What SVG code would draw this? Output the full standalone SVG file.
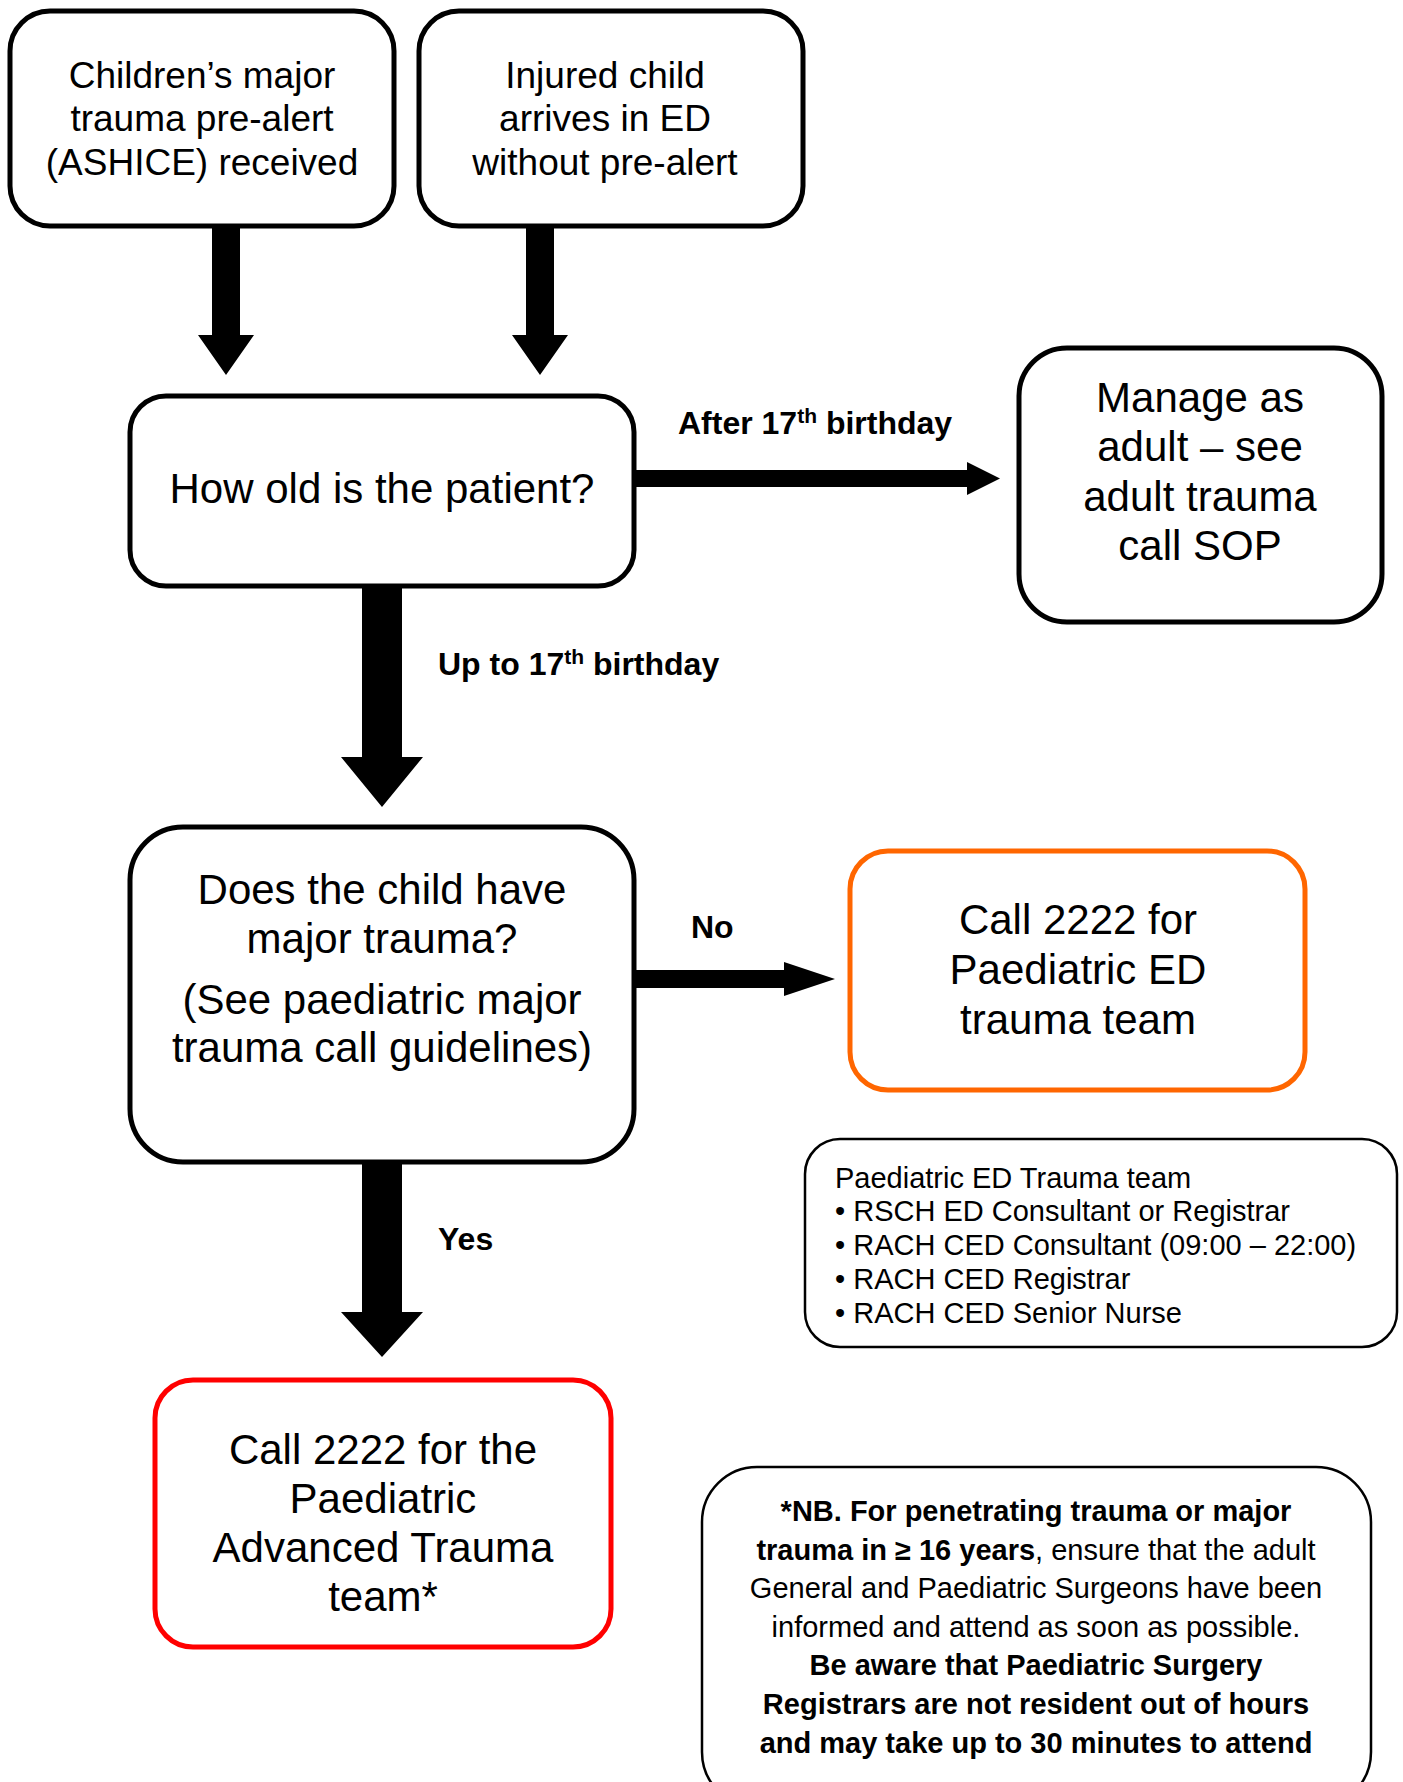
<svg xmlns="http://www.w3.org/2000/svg" width="1403" height="1782" viewBox="0 0 1403 1782">
<style>
.box{fill:#fff;stroke:#000;stroke-width:5}
.thin{fill:#fff;stroke:#000;stroke-width:2.5}
.orange{fill:#fff;stroke:#FF6600;stroke-width:5}
.red{fill:#fff;stroke:#FF0000;stroke-width:5}
.arrow{fill:#000;stroke:none}
text{font-family:"Liberation Sans",Arial,sans-serif;fill:#000}
.t37{font-size:37px;text-anchor:middle}
.t42{font-size:42px;text-anchor:middle}
.lbl{font-size:32px;font-weight:bold}
.sup{font-size:21px}
.small{font-size:29px}
.nb{font-size:29px;text-anchor:middle}
.b{font-weight:bold}
</style>
<rect width="1403" height="1782" fill="#fff"/>
<g id="connectors">
<polygon class="arrow" points="212,227 240,227 240,335 254,335 226,375 198,335 212,335"/>
<polygon class="arrow" points="526,227 554,227 554,335 568,335 540,375 512,335 526,335"/>
<polygon class="arrow" points="634,470 967,470 967,462 1000,478.5 967,495 967,487 634,487"/>
<polygon class="arrow" points="362,586 402,586 402,757 423,757 382,807 341,757 362,757"/>
<polygon class="arrow" points="634,970 784,970 784,962 835,979 784,996 784,988 634,988"/>
<polygon class="arrow" points="362,1163 402,1163 402,1312 423,1312 382,1357 341,1312 362,1312"/>
<text class="lbl" x="678" y="434">After 17<tspan class="sup" dy="-11">th</tspan><tspan dy="11"> birthday</tspan></text>
<text class="lbl" x="438" y="675">Up to 17<tspan class="sup" dy="-11">th</tspan><tspan dy="11"> birthday</tspan></text>
<text class="lbl" x="691" y="938">No</text>
<text class="lbl" x="438" y="1250">Yes</text>
</g>
<g id="node-prealert">
<rect class="box" x="10" y="11" width="384" height="215" rx="40"/>
<text class="t37" x="202" y="88">Children’s major</text>
<text class="t37" x="202" y="131">trauma pre-alert</text>
<text class="t37" x="202" y="175">(ASHICE) received</text>
</g>
<g id="node-noprealert">
<rect class="box" x="419" y="11" width="384" height="215" rx="40"/>
<text class="t37" x="605" y="88">Injured child</text>
<text class="t37" x="605" y="131">arrives in ED</text>
<text class="t37" x="605" y="175">without pre-alert</text>
</g>
<g id="node-age">
<rect class="box" x="130" y="396" width="504" height="190" rx="36"/>
<text class="t42" x="382" y="503">How old is the patient?</text>
</g>
<g id="node-adult">
<rect class="box" x="1019" y="348" width="363" height="274" rx="48"/>
<text class="t42" x="1200" y="412">Manage as</text>
<text class="t42" x="1200" y="461">adult – see</text>
<text class="t42" x="1200" y="511">adult trauma</text>
<text class="t42" x="1200" y="560">call SOP</text>
</g>
<g id="node-major">
<rect class="box" x="130" y="827" width="504" height="335" rx="53"/>
<text class="t42" x="382" y="904">Does the child have</text>
<text class="t42" x="382" y="953">major trauma?</text>
<text class="t42" x="382" y="1014">(See paediatric major</text>
<text class="t42" x="382" y="1062">trauma call guidelines)</text>
</g>
<g id="node-edteam">
<rect class="orange" x="850" y="851" width="455" height="239" rx="38"/>
<text class="t42" x="1078" y="934">Call 2222 for</text>
<text class="t42" x="1078" y="984">Paediatric ED</text>
<text class="t42" x="1078" y="1034">trauma team</text>
</g>
<g id="node-teamlist">
<rect class="thin" x="805" y="1139" width="592" height="208" rx="35"/>
<text class="small" x="835" y="1188">Paediatric ED Trauma team</text>
<text class="small" x="835" y="1221">• RSCH ED Consultant or Registrar</text>
<text class="small" x="835" y="1255">• RACH CED Consultant (09:00 – 22:00)</text>
<text class="small" x="835" y="1289">• RACH CED Registrar</text>
<text class="small" x="835" y="1323">• RACH CED Senior Nurse</text>
</g>
<g id="node-advanced">
<rect class="red" x="155" y="1380" width="456" height="267" rx="38"/>
<text class="t42" x="383" y="1464">Call 2222 for the</text>
<text class="t42" x="383" y="1513">Paediatric</text>
<text class="t42" x="383" y="1562">Advanced Trauma</text>
<text class="t42" x="383" y="1611">team*</text>
</g>
<g id="node-nb">
<rect class="thin" x="702" y="1467" width="669" height="340" rx="55"/>
<text class="nb b" x="1036" y="1521">*NB. For penetrating trauma or major</text>
<text class="nb" x="1036" y="1560"><tspan class="b">trauma in ≥ 16 years</tspan>, ensure that the adult</text>
<text class="nb" x="1036" y="1598">General and Paediatric Surgeons have been</text>
<text class="nb" x="1036" y="1637">informed and attend as soon as possible.</text>
<text class="nb b" x="1036" y="1675">Be aware that Paediatric Surgery</text>
<text class="nb b" x="1036" y="1714">Registrars are not resident out of hours</text>
<text class="nb b" x="1036" y="1753">and may take up to 30 minutes to attend</text>
</g>
</svg>
